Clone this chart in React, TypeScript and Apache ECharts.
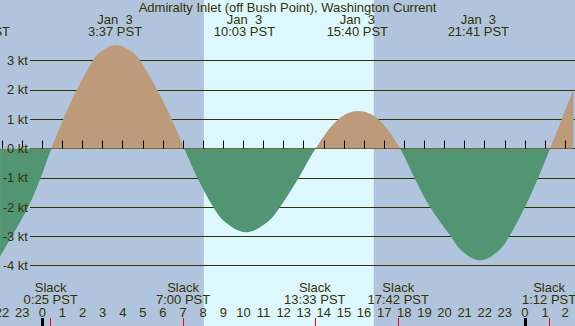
import React, { useEffect, useRef } from 'react';
import * as echarts from 'echarts';

const TITLE = 'Admiralty Inlet (off Bush Point), Washington Current';

// Curve samples: hours after Jan 3 00:00 PST, knots (+ flood, - ebb)
const curveHours = [
  -2.1, -1.52, -0.7, -0.08, 0.45, 1.04, 1.71, 2.51, 2.9, 3.66, 4.45, 4.86, 5.72, 6.43,
  7.06, 7.71, 8.5, 9.07, 10.13, 11.21, 11.82, 12.75, 13.59, 14.72, 15.71, 16.71,
  17.79, 18.5, 19.28, 20.31, 20.86, 21.77, 22.68, 23.22, 24.0, 24.66, 25.25, 25.83, 26.41,
];
const curveKnots = [
  -3.69, -3, -2, -1, 0, 1, 2, 3, 3.3, 3.53, 3.3, 3, 2, 1,
  0, -1, -2, -2.5, -2.86, -2.5, -2, -1, 0, 1, 1.28, 1,
  0, -1, -2, -3, -3.5, -3.82, -3.5, -3, -2, -1, 0, 1, 2,
];

// Events (minutes after Jan 3 00:00 PST)
const slackMinutes = [25, 420, 813, 1062, 1512];
const maxCurrentMinutes = [-188, 217, 603, 940, 1301];
const maxCurrentDates = ['Jan  2', 'Jan  3', 'Jan  3', 'Jan  3', 'Jan  3'];

const sunriseMinutes = 482;
const sunsetMinutes = 989;

const hourTicks = [-2, -1, 0, 1, 2, 3, 4, 5, 6, 7, 8, 9, 10, 11, 12, 13, 14, 15, 16, 17, 18, 19, 20, 21, 22, 23, 24, 25, 26];
const midnightTicks = [0, 24];
const knotLevels = [3, 2, 1, 0, -1, -2, -3, -4];

// Axis extents (layout)
const X_MIN = -2.103;
const X_MAX = 26.489;
const Y_MIN = -6.06;
const Y_MAX = 5.07;

const NIGHT = '#b0c4de';
const DAY = '#ddf7ff';
const FLOOD = '#bd9a7a';
const EBB = '#519572';
const TEXT = '#333300';
const GRIDC = '#333300';
const FONT = '"Liberation Sans", Arial, sans-serif';

const pad2 = (n: number) => (n < 10 ? '0' + n : String(n));
const fmtTime = (min: number) => {
  const m = ((Math.round(min) % 1440) + 1440) % 1440;
  return `${Math.floor(m / 60)}:${pad2(m % 60)} PST`;
};

export default function App() {
  const ref = useRef<HTMLDivElement>(null);

  useEffect(() => {
    document.body.style.margin = '0';
    if (!ref.current) return;
    const chart = echarts.init(ref.current, null, { renderer: 'svg' });

    const labelBase = { fontSize: 13, fontFamily: FONT, color: TEXT };

    const option: any = {
      animation: false,
      backgroundColor: NIGHT,
      title: {
        text: TITLE,
        left: 'center',
        top: 1,
        padding: 0,
        z: 20,
        textStyle: { fontSize: 13, fontWeight: 'normal', color: TEXT, fontFamily: FONT, lineHeight: 13 },
      },
      grid: [
        { left: 0, right: 0, top: 0, bottom: 0, containLabel: false, outerBoundsMode: 'none' },
        { left: 30, right: 0, top: 0, bottom: 0, containLabel: false, outerBoundsMode: 'none' },
      ],
      xAxis: [
        {
          gridIndex: 0, type: 'value', min: X_MIN, max: X_MAX, position: 'bottom', z: 10,
          axisLine: { show: false }, splitLine: { show: false },
          axisTick: { show: true, inside: true, length: 8, customValues: hourTicks, lineStyle: { color: '#000', width: 1 } },
          axisLabel: {
            show: true, inside: true, margin: 14, customValues: hourTicks, verticalAlign: 'middle', ...labelBase,
            formatter: (v: number) => String(((Math.round(v) % 24) + 24) % 24),
          },
        },
        {
          gridIndex: 0, type: 'value', min: X_MIN, max: X_MAX, position: 'bottom', z: 11,
          axisLine: { show: false }, splitLine: { show: false }, axisLabel: { show: false },
          axisTick: { show: true, inside: true, length: 8, customValues: midnightTicks, lineStyle: { color: '#000', width: 3 } },
        },
        {
          gridIndex: 0, type: 'value', min: X_MIN, max: X_MAX, position: 'bottom', z: 12,
          axisLine: { show: false }, splitLine: { show: false },
          axisTick: { show: true, inside: true, length: 8, customValues: slackMinutes.map((m) => m / 60), lineStyle: { color: '#ff0000', width: 1 } },
          axisLabel: {
            show: true, inside: true, margin: 32.5, lineHeight: 12, verticalAlign: 'middle', ...labelBase,
            customValues: slackMinutes.map((m) => m / 60),
            formatter: (v: number) => `Slack\n${fmtTime(v * 60)}`,
          },
        },
        { gridIndex: 1, type: 'value', min: 0, max: 1, show: false },
      ],
      yAxis: [
        { gridIndex: 0, type: 'value', min: Y_MIN, max: Y_MAX, show: false },
        {
          gridIndex: 1, type: 'value', min: Y_MIN, max: Y_MAX, z: 2,
          axisLine: { show: false },
          axisTick: { show: false, customValues: knotLevels },
          axisLabel: { show: false },
          splitLine: { show: true, lineStyle: { color: GRIDC, width: 1, type: 'solid' } },
        },
        {
          gridIndex: 1, type: 'value', min: Y_MIN, max: Y_MAX, z: 10, position: 'left',
          axisLine: { show: false }, axisTick: { show: false }, splitLine: { show: false },
          axisLabel: {
            show: true, margin: 2, customValues: knotLevels, verticalAlign: 'middle', ...labelBase,
            formatter: (v: number) => `${v} kt`,
          },
        },
      ],
      visualMap: {
        show: false,
        type: 'piecewise',
        seriesIndex: 0,
        dimension: 1,
        pieces: [
          { gte: -20, lt: 0, color: EBB },
          { gte: 0, lte: 20, color: FLOOD },
        ],
      },
      series: [
        {
          type: 'line',
          xAxisIndex: 0,
          yAxisIndex: 0,
          data: curveHours.map((h, i) => [h, curveKnots[i]]),
          smooth: 0.35,
          showSymbol: false,
          symbol: 'none',
          silent: true,
          z: 3,
          lineStyle: { opacity: 0, width: 0 },
          areaStyle: { opacity: 1 },
          markArea: {
            silent: true,
            z: 1,
            itemStyle: { color: DAY },
            label: { show: false },
            data: [[{ xAxis: sunriseMinutes / 60 }, { xAxis: sunsetMinutes / 60 }]],
          },
        },
      ],
    };

    chart.setOption(option);

    const graphics = maxCurrentMinutes.map((m, i) => {
      const px = chart.convertToPixel({ xAxisIndex: 0 }, m / 60) as number;
      return {
        type: 'text',
        x: px,
        y: 25.75,
        z: 20,
        silent: true,
        style: {
          text: `${maxCurrentDates[i]}\n${fmtTime(m)}`,
          fill: TEXT,
          fontSize: 13,
          fontFamily: FONT,
          textAlign: 'center',
          textVerticalAlign: 'middle',
          align: 'center',
          verticalAlign: 'middle',
          lineHeight: 12,
        },
      };
    });
    chart.setOption({ graphic: graphics });

    return () => {
      chart.dispose();
    };
  }, []);

  return (
    <div
      ref={ref}
      style={{ position: 'fixed', left: 0, top: 0, width: 575, height: 326 }}
    />
  );
}
